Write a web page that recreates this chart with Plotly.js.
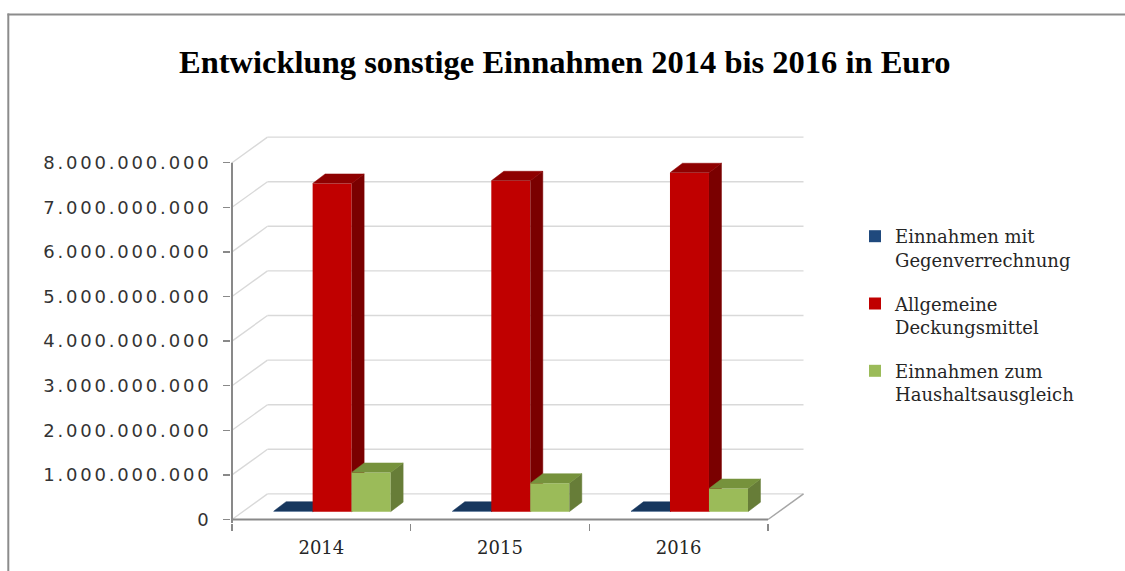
<!DOCTYPE html>
<html><head><meta charset="utf-8">
<script src="https://cdn.plot.ly/plotly-3.0.1.min.js"></script>
<style>
html,body{margin:0;padding:0;background:#fff;}
#chart{width:1125px;height:571px;}
.ytick text{letter-spacing:2.8px;}
</style></head><body><div id="chart"></div>
<script>
// ---- data ----
const categories = ['2014', '2015', '2016'];
const einnahmenGegenverrechnung = [12e6, 10e6, 9e6];
const allgemeineDeckungsmittel = [7.36e9, 7.42e9, 7.60e9];
const einnahmenHaushaltsausgleich = [0.88e9, 0.64e9, 0.52e9];
const seriesNames = ['Einnahmen mit<br>Gegenverrechnung', 'Allgemeine<br>Deckungsmittel', 'Einnahmen zum<br>Haushaltsausgleich'];
const yTickVals = [0, 1e9, 2e9, 3e9, 4e9, 5e9, 6e9, 7e9, 8e9];
const titleText = 'Entwicklung sonstige Einnahmen 2014 bis 2016 in Euro';

// ---- geometry (pixels -> data units) ----
const W = 1125, H = 571;
const plotL = 231, plotR = 805, plotT = 130, plotB = 523;
const axisXpx = 232, floorYpx = 519.5;
const catPx = 178.67, unitPx = 44.6 / 1e9;
const xMin = -0.5 - (axisXpx - plotL) / catPx;
const xMax = -0.5 + (plotR - axisXpx) / catPx;
const yMin = -(plotB - floorYpx) / unitPx;
const yMax = (floorYpx - plotT) / unitPx;
const wallDX = 35.5 / catPx, wallDY = 25.6 / unitPx;
const barDX = 10.8 / catPx, barDY = 7.8 / unitPx;
const barW = 39 / catPx;
const depthDX = 12.5 / catPx, depthDY = 9.5 / unitPx;
const nCat = categories.length;
const xs = categories.map((c, i) => i);

const series = [
  {name: seriesNames[0], values: einnahmenGegenverrechnung, front: '#1f497d', side: '#14305a', cap: '#17375e'},
  {name: seriesNames[1], values: allgemeineDeckungsmittel, front: '#c00000', side: '#7a0000', cap: '#8e0000'},
  {name: seriesNames[2], values: einnahmenHaushaltsausgleich, front: '#9bbb59', side: '#677d38', cap: '#76923c'}
];

const traces = [];
series.forEach((s, k) => {
  const ax = k === 0 ? '' : String(k + 1);
  const left = -1.5 * barW + k * barW + barDX;
  traces.push({
    type: 'bar', name: s.name, x: xs, y: s.values,
    base: xs.map(() => barDY), offset: left, width: barW,
    marker: {color: s.front, line: {width: 0}},
    xaxis: 'x' + ax, yaxis: 'y' + ax, legendgroup: 'g' + k, hoverinfo: 'skip'
  });
  const sx = [], sy = [], cx = [], cy = [];
  s.values.forEach((v, i) => {
    const xl = i + left, xr = xl + barW, yb = barDY, yt = barDY + v;
    sx.push(xr, xr + depthDX, xr + depthDX, xr, null);
    sy.push(yb, yb + depthDY, yt + depthDY, yt, null);
    cx.push(xl, xl + depthDX, xr + depthDX, xr, null);
    cy.push(yt, yt + depthDY, yt + depthDY, yt, null);
  });
  traces.push({type: 'scatter', mode: 'lines', x: sx, y: sy, fill: 'toself', fillcolor: s.side,
    line: {color: s.side, width: 0.5}, showlegend: false, hoverinfo: 'skip', xaxis: 'x' + ax, yaxis: 'y' + ax});
  traces.push({type: 'scatter', mode: 'lines', x: cx, y: cy, fill: 'toself', fillcolor: s.cap,
    line: {color: s.cap, width: 0.5}, showlegend: false, hoverinfo: 'skip', xaxis: 'x' + ax, yaxis: 'y' + ax});
});

// ---- 3D walls / floor ----
const shapes = [];
const gridColor = '#d9d9d9', axisColor = '#898989';
yTickVals.forEach(v => {
  shapes.push({type: 'line', xref: 'x', yref: 'y', x0: -0.5 + wallDX, x1: nCat - 0.5 + wallDX,
    y0: v + wallDY, y1: v + wallDY, line: {color: gridColor, width: 1.4}, layer: 'below'});
  shapes.push({type: 'line', xref: 'x', yref: 'y', x0: -0.5, x1: -0.5 + wallDX,
    y0: v, y1: v + wallDY, line: {color: gridColor, width: 1.4}, layer: 'below'});
});
shapes.push({type: 'line', xref: 'x', yref: 'y', x0: nCat - 0.5, x1: nCat - 0.5 + wallDX, y0: 0, y1: wallDY,
  line: {color: '#a6a6a6', width: 1.5}, layer: 'below'});
shapes.push({type: 'line', xref: 'x', yref: 'y', x0: -0.5, x1: nCat - 0.5, y0: 0, y1: 0,
  line: {color: axisColor, width: 2}, layer: 'above'});
shapes.push({type: 'line', xref: 'x', yref: 'y', x0: -0.5, x1: -0.5, y0: yMin, y1: yTickVals[yTickVals.length - 1],
  line: {color: axisColor, width: 2}, layer: 'above'});

// outer frame
const px2x = p => (p - plotL) / (plotR - plotL);
const py2y = p => (plotB - p) / (plotB - plotT);
shapes.push({type: 'line', xref: 'paper', yref: 'paper', x0: px2x(7.5), x1: px2x(W), y0: py2y(14.5), y1: py2y(14.5),
  line: {color: '#8c8c8c', width: 2}, layer: 'above'});
shapes.push({type: 'line', xref: 'paper', yref: 'paper', x0: px2x(8.3), x1: px2x(8.3), y0: py2y(13.5), y1: py2y(H + 2),
  line: {color: '#8c8c8c', width: 2}, layer: 'above'});

const layout = {
  width: W, height: H,
  margin: {l: plotL, r: W - plotR, t: plotT, b: H - plotB, autoexpand: false},
  paper_bgcolor: '#fff', plot_bgcolor: 'rgba(0,0,0,0)',
  separators: ',.',
  showlegend: true,
  title: {text: titleText, font: {family: 'Liberation Serif', size: 32.5, weight: 'bold', color: '#000'},
    x: 0.502, xref: 'container', xanchor: 'center', y: 1 - 62 / H, yref: 'container', yanchor: 'middle'},
  xaxis: {range: [xMin, xMax], tickvals: xs, ticktext: categories, ticks: '', showline: false, showgrid: false,
    zeroline: false, fixedrange: true, ticklabelstandoff: 12,
    tickfont: {family: 'DejaVu Serif', size: 18, color: '#262626'},
    minor: {tickvals: [-0.5, 0.5, 1.5, 2.5], ticks: 'outside', ticklen: 7, tickcolor: axisColor, tickwidth: 1.5, showgrid: false}},
  yaxis: {range: [yMin, yMax], tickvals: yTickVals, tickformat: ',.0f', ticks: 'outside', ticklen: 7,
    tickcolor: axisColor, tickwidth: 1.5, showline: false, showgrid: false, zeroline: false, fixedrange: true,
    ticklabelstandoff: 8, tickfont: {family: 'DejaVu Sans', size: 18, color: '#333'}},
  xaxis2: {overlaying: 'x', anchor: 'y2', range: [xMin, xMax], visible: false, fixedrange: true},
  yaxis2: {overlaying: 'y', anchor: 'x2', range: [yMin, yMax], visible: false, fixedrange: true},
  xaxis3: {overlaying: 'x', anchor: 'y3', range: [xMin, xMax], visible: false, fixedrange: true},
  yaxis3: {overlaying: 'y', anchor: 'x3', range: [yMin, yMax], visible: false, fixedrange: true},
  legend: {x: 855 / W, xref: 'container', xanchor: 'left', y: 1 - 218 / H, yref: 'container', yanchor: 'top',
    valign: 'top', traceorder: 'grouped', tracegroupgap: 17.5, bgcolor: 'rgba(0,0,0,0)',
    font: {family: 'DejaVu Serif', size: 18, color: '#262626'}},
  shapes: shapes
};

Plotly.newPlot('chart', traces, layout, {displayModeBar: false, staticPlot: true});
</script></body></html>
